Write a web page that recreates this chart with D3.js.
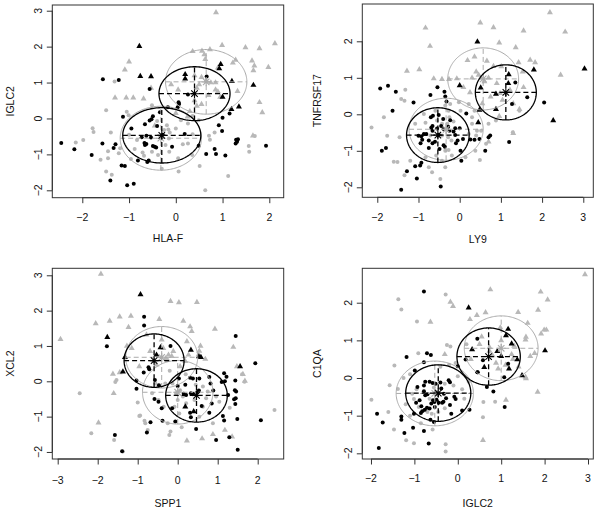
<!DOCTYPE html>
<html><head><meta charset="utf-8">
<script src="https://cdn.jsdelivr.net/npm/d3@7"></script>
<style>body{margin:0;background:#fff} svg{display:block} text{font-family:"Liberation Sans",Arial,Helvetica,sans-serif;fill:#111}</style>
</head><body><svg id="c" width="600" height="515"></svg>
<script>
// ---------- DATA ----------
const xLabels = ["HLA-F","LY9","SPP1","IGLC2"];
const yLabels = ["IGLC2","TNFRSF17","XCL2","C1QA"];
const xTicks = [[-2,-1,0,1,2],[-2,-1,0,1,2,3],[-3,-2,-1,0,1,2],[-2,-1,0,1,2,3]];
const yTicks = [[-2,-1,0,1,2,3],[-2,-1,0,1,2],[-2,-1,0,1,2,3],[-2,-1,0,1,2]];

const p1BlackDots = [[-2.45,-0.68],[-2.17,-0.86],[-1.8,-1.02],[-1.56,1.09],[-1.57,-0.7],[-1.4,-1.73],[-1.33,-0.82],[-1.29,-0.72],[-1.22,1.07],[-1.13,0.05],[-1.16,-1.31],[-1.09,-1.32],[-1.04,-1.86],[-0.9,-1.82],[-0.95,-0.28],[-0.81,-1.17],[-0.73,-0.52],[-0.66,-0.16],[-0.63,-0.48],[-0.53,-0.53],[-0.67,-0.68],[-0.63,-0.71],[-0.66,-0.74],[-0.49,-0.77],[-0.45,-0.79],[-0.42,-0.81],[-0.61,-1.21],[-0.58,-1.17],[-0.56,0.82],[-0.49,0.06],[-0.34,0.17],[-0.56,-0.06],[-0.52,-0.02],[-0.4,-0.21],[-0.28,-0.45],[-0.08,-0.79],[-0.17,0.31],[0.06,0.45],[0.07,0.4],[0.04,0.31],[0.19,-0.43],[0.26,0.67],[0.66,1.17],[0.49,-0.76],[0.65,-0.99],[0.83,-0.85],[0.86,-0.99],[1.06,-1.03],[0.92,-0.19],[0.99,-0.35],[1.0,0.02],[1.15,0.14],[1.29,-0.59],[1.31,-0.65],[1.28,-0.7],[1.33,-0.58],[1.93,-0.76]];
const p1BlackTri = [[-0.78,2.01],[-0.76,1.18],[-0.53,1.17],[0.2,1.23],[0.2,1.11],[0.96,1.51],[0.93,1.39],[1.2,1.04],[1.66,0.93],[1.35,0.33],[1.19,0.26],[1.0,0.6]];
const p1GrayDots = [[-1.31,1.03],[-1.49,0.23],[-1.78,-0.27],[-1.76,-0.38],[-1.98,-0.6],[-2.14,-0.67],[-1.39,-0.39],[-1.61,-1.15],[-1.45,-1.11],[-1.45,-0.91],[-1.49,-1.48],[-1.37,-1.57],[-1.22,-0.97],[-1.19,-0.83],[-1.01,0.09],[-1.05,0.19],[-0.96,-1.13],[-0.88,-0.85],[-0.51,0.37],[-0.71,-0.95],[-0.68,-1.04],[-0.83,-0.6],[-0.51,-0.93],[-0.38,-1.02],[-0.22,-0.74],[-0.25,-0.32],[-0.19,-0.19],[-0.4,-0.07],[-0.16,-0.31],[-0.13,-0.39],[-0.15,-0.56],[0.0,-0.28],[0.11,-0.05],[0.26,-0.14],[0.36,0.07],[0.49,-0.05],[-0.14,-0.93],[0.05,-1.11],[0.35,-1.02],[0.06,-1.48],[0.15,-0.72],[0.26,-0.7],[0.36,-0.44],[0.51,-1.32],[0.71,-0.48],[0.73,-0.59],[0.83,-0.39],[0.63,-2.0],[1.12,-1.6],[1.56,-0.77],[1.57,-0.93],[1.69,-0.49],[-0.3,-1.4],[-1.0,-0.45]];
const p1GrayTri = [[-1.0,1.58],[-1.09,1.36],[-1.3,0.58],[-1.06,0.58],[-0.91,0.58],[-0.69,0.55],[-0.53,0.85],[0.86,2.95],[0.99,2.04],[0.36,1.87],[0.56,1.88],[0.73,1.92],[0.61,1.78],[0.63,1.65],[1.49,1.98],[1.79,1.95],[2.12,2.09],[1.63,1.61],[1.68,1.47],[1.66,1.34],[1.98,1.43],[1.28,1.63],[1.22,1.55],[0.9,1.41],[0.4,1.2],[0.55,1.15],[0.65,1.05],[0.75,1.0],[0.5,0.95],[0.45,0.85],[0.85,1.0],[0.85,0.8],[0.9,0.75],[0.95,0.6],[0.7,0.65],[0.4,0.5],[0.45,0.35],[0.55,0.4],[0.3,0.2],[0.25,0.05],[1.32,0.76],[1.79,0.45],[1.85,0.17],[0.05,0.8],[-0.1,0.95],[1.65,-0.48],[-0.45,-0.2],[0.0,0.15]];
const p1Ellipses = [[-0.3,-0.47,0.835,0.77,"b"],[0.4,0.69,0.76,0.75,"b"],[-0.32,-0.55,0.87,0.89,"g"],[0.65,1.02,0.87,0.9,"g"]];

const p2BlackDots = [[-1.93,0.71],[-1.74,0.78],[-1.55,0.62],[-1.63,0.1],[-1.89,-1.0],[-1.79,-0.92],[-1.42,-2.07],[-1.28,-1.56],[-1.08,-1.42],[-0.96,-1.4],[-0.93,-1.33],[-1.04,-1.76],[-1.12,0.32],[-0.71,0.53],[-0.54,0.74],[-0.37,0.62],[-0.35,0.49],[-0.32,0.35],[-0.46,-1.98],[-0.66,-0.32],[-0.69,-0.37],[-0.66,-0.45],[-0.55,-0.39],[-0.51,-0.56],[-0.6,-0.75],[-0.66,-0.79],[-0.75,-0.72],[-0.91,-0.7],[-0.93,-0.6],[-1.0,-0.59],[-0.87,-0.54],[-0.81,-0.54],[-0.7,-0.08],[-0.65,-0.04],[-0.51,-0.02],[-0.4,-0.13],[-0.45,-0.32],[-0.39,-0.4],[-0.28,-0.34],[-0.25,-0.45],[-0.15,-0.47],[-0.11,-0.38],[0.0,-0.38],[-0.11,-0.57],[-0.36,-0.89],[-0.39,-0.85],[-0.49,-0.95],[-0.75,-0.92],[-0.95,-0.79],[-0.09,-0.79],[-0.05,-0.72],[0.08,-0.68],[0.16,0.02],[0.02,-1.0],[0.04,-1.27],[0.26,-0.69],[0.36,-0.7],[-0.23,-0.16],[1.35,0.87],[1.27,0.28],[1.64,0.47],[2.05,0.32],[0.74,-0.58],[0.7,-0.63],[0.48,-0.68],[1.2,-0.76],[0.62,-1.0]];
const p2BlackTri = [[0.43,1.99],[1.19,1.09],[1.18,0.85],[1.8,1.22],[3.03,1.25],[0.51,0.73],[0.88,0.56],[2.27,-0.17],[0.88,0.14],[0.48,0.12],[0.45,-0.22],[0.0,0.79]];
const p2GrayDots = [[-2.14,-0.36],[-1.84,-0.08],[-1.76,-0.59],[-1.51,-1.31],[-1.34,-1.67],[-1.42,0.42],[-1.32,0.67],[-1.34,0.37],[-1.08,-0.26],[-0.83,-0.23],[-0.43,-0.26],[-0.3,-0.26],[-0.25,-0.08],[-0.15,-0.2],[-0.27,0.1],[-0.35,0.24],[-0.23,0.28],[0.02,0.1],[-0.02,0.33],[0.22,0.28],[0.3,-0.08],[0.3,-0.26],[0.22,-0.54],[-0.35,-1.0],[-0.27,-0.98],[-0.57,-1.13],[-0.75,-1.45],[-0.67,-1.59],[-0.83,-1.18],[-0.43,-1.27],[-0.19,-1.13],[0.14,-1.18],[0.38,-1.0],[0.42,-0.45],[0.36,0.1],[-0.87,0.01],[-0.59,0.1],[-0.2,-0.72],[-0.28,-0.63],[-0.43,-0.58],[-0.71,-0.58],[-0.55,-0.17],[-1.46,-0.63],[-1.2,-1.27],[-0.47,-1.77],[-0.35,-1.45],[0.4,-0.58],[0.52,-0.45],[0.7,-0.26],[0.88,-0.17],[1.29,-0.49],[0.49,-1.25],[0.64,-0.81],[1.45,0.1],[-1.6,-1.3]];
const p2GrayTri = [[-0.83,2.37],[-0.72,1.87],[-1.28,1.19],[-0.98,1.23],[-0.63,0.98],[0.5,2.51],[0.82,2.38],[1.55,2.29],[2.19,2.79],[2.56,2.26],[0.96,1.96],[1.36,1.83],[0.19,1.48],[0.36,1.58],[1.71,1.49],[1.83,1.42],[1.43,1.42],[2.45,1.08],[1.53,1.17],[1.55,0.74],[0.66,1.46],[0.82,1.32],[1.01,1.31],[0.4,1.17],[0.46,1.08],[0.3,1.0],[-0.07,0.98],[-0.26,0.96],[-0.43,0.96],[1.22,0.67],[0.98,0.58],[0.75,0.48],[1.04,0.39],[1.3,0.3],[1.45,0.14],[0.96,-0.05],[1.3,-0.52],[0.7,-0.75],[0.09,0.74],[0.6,0.9],[0.7,1.0],[0.25,0.6],[0.9,0.85],[0.55,0.3]];
const p2Ellipses = [[-0.53,-0.57,0.76,0.75,"b"],[1.12,0.6,0.74,0.755,"b"],[-0.33,-0.41,0.9,0.85,"g"],[0.57,0.97,0.86,0.85,"g"]];

const p3BlackDots = [[-0.84,1.83],[-0.84,1.58],[-1.77,0.99],[-0.73,0.4],[-0.71,0.34],[-0.85,0.25],[-0.57,0.04],[-0.47,-0.11],[-1.03,0.02],[-1.03,-0.21],[-0.58,-0.5],[-0.48,-0.58],[-0.4,-0.76],[-0.38,-1.12],[-0.68,-1.16],[-0.77,-1.45],[-1.57,-1.52],[-1.39,-1.98],[-0.18,1.0],[1.45,1.28],[1.94,0.51],[0.03,0.08],[0.31,0.1],[0.38,0.08],[0.54,0.08],[0.79,0.12],[1.16,0.23],[1.22,0.13],[1.18,0.0],[1.44,0.02],[1.43,-0.25],[1.46,-0.29],[1.41,-0.51],[1.45,-0.48],[1.1,-0.02],[0.82,-0.06],[0.89,-0.26],[1.26,-0.39],[0.85,-0.63],[0.79,-0.89],[1.13,-0.98],[1.16,-1.11],[1.49,-1.07],[2.08,-1.1],[0.49,-0.3],[0.53,-0.26],[0.33,-0.34],[0.38,-0.37],[0.19,-0.1],[0.0,-0.13],[0.21,-0.39],[0.31,-0.89],[0.33,-1.02],[0.46,-1.35],[0.96,-1.66],[1.29,-1.58],[1.5,-1.94],[-0.14,-0.76],[-0.06,-1.14],[1.44,-0.64],[0.15,-0.35],[0.6,-0.7]];
const p3BlackTri = [[-0.93,2.46],[-1.76,1.25],[-0.43,0.96],[-1.32,0.68],[-0.53,0.75],[-1.37,0.27],[0.33,0.89],[0.53,0.7],[0.58,0.68],[1.56,0.42],[0.19,-0.72],[0.4,-0.85]];
const p3GrayDots = [[-2.45,-0.34],[-2.16,-1.47],[-1.59,-1.66],[-1.37,-1.99],[-0.94,-0.97],[-0.83,-1.12],[-0.75,-1.38],[-0.18,-1.42],[-0.21,-1.52],[2.42,-0.81],[-0.04,-0.34],[0.06,-0.25],[-0.13,-0.06],[0.13,-0.43],[0.0,-0.53],[0.21,-0.62],[0.42,-0.53],[0.63,-0.72],[0.71,-0.48],[0.96,-0.43],[1.04,-0.58],[0.63,-0.15],[0.75,-0.29],[-0.08,-0.72],[0.04,-0.91],[0.54,-1.0],[0.88,-1.19],[-0.25,-1.19],[1.67,-0.01],[1.61,0.2],[-0.64,-0.34],[-0.48,-0.53],[-0.35,-0.72],[-0.56,-0.06],[-0.31,-0.06],[-0.96,-0.98],[-0.81,-1.19],[-1.53,0.04],[-1.56,-0.02],[0.2,0.2],[-0.2,0.3],[0.45,-0.1],[1.3,-0.75],[-1.0,-0.6],[0.1,-1.3]];
const p3GrayTri = [[-1.92,3.04],[-2.93,1.19],[-2.05,1.64],[-1.7,1.71],[-1.45,1.83],[-1.17,1.85],[-1.23,1.53],[-0.46,1.76],[-1.27,1.0],[-1.6,-0.34],[-1.62,0.21],[-1.45,0.25],[-1.98,-1.17],[-0.18,2.27],[0.03,2.23],[0.48,2.24],[0.14,1.71],[0.31,1.55],[0.35,1.42],[0.93,1.48],[0.57,1.0],[0.54,0.86],[0.69,0.63],[1.39,0.97],[1.63,0.2],[1.68,0.01],[1.48,0.42],[0.23,-1.68],[0.61,-1.62],[0.88,-1.5],[1.18,-1.38],[1.36,-1.57],[-0.36,0.94],[-0.23,0.75],[-0.15,0.71],[-0.11,0.85],[-0.4,1.18],[-0.78,1.32],[-0.69,0.85],[0.23,1.13],[0.27,0.75],[0.52,0.75],[-0.53,0.47],[-1.15,0.94],[-0.96,0.42],[0.06,0.42],[0.19,0.57],[-0.3,0.65],[-0.25,0.6]];
const p3Ellipses = [[-0.59,0.585,0.75,0.755,"b"],[0.47,-0.4,0.77,0.755,"b"],[-0.4,0.68,0.9,0.87,"g"],[0.0,-0.31,0.88,0.9,"g"]];

const p4BlackDots = [[-0.78,2.3],[-1.18,0.56],[-0.71,0.66],[-0.62,0.61],[-0.99,0.2],[-0.78,0.42],[0.45,1.04],[0.0,0.31],[0.18,0.49],[0.45,0.15],[-1.86,-0.95],[-1.73,-1.18],[-1.3,-1.02],[-1.3,-1.11],[-1.23,-1.46],[-1.03,-1.32],[-0.78,-1.41],[-1.82,-1.86],[-0.67,-1.74],[-0.85,-0.93],[-0.82,-0.88],[-0.76,-0.84],[-0.71,-0.79],[-0.65,-0.81],[-0.61,-0.68],[-0.57,-0.59],[-0.54,-0.64],[-0.49,-0.58],[-0.44,-0.66],[-0.36,-0.66],[-0.33,-0.63],[-0.75,-0.46],[-0.7,-0.43],[-0.78,-0.35],[-0.88,-0.59],[-0.96,-0.66],[-0.84,-0.75],[-0.93,-0.24],[-0.78,-0.2],[-0.75,-0.1],[-0.65,-0.1],[-0.58,-0.13],[-0.51,-0.15],[-0.4,-0.12],[-0.38,-0.28],[-0.32,-0.42],[-0.5,-0.4],[-0.21,-0.06],[-0.18,-0.11],[-0.08,-0.5],[-0.05,-0.56],[0.1,-0.86],[-0.15,-0.95],[-0.18,-0.72],[-0.27,-0.54],[0.27,-0.84],[-0.63,-1.11],[-1.01,-0.95],[-0.55,-1.17],[-0.53,-0.77],[0.58,0.47],[1.16,0.38],[0.46,0.15],[1.07,0.02],[0.67,-0.24],[0.82,-0.36],[1.08,-0.77]];
const p4BlackTri = [[0.25,1.87],[0.33,0.76],[1.16,1.3],[1.11,1.13],[1.24,0.91],[0.91,0.71],[1.0,0.58],[1.37,0.49],[0.61,0.29],[1.18,0.25],[1.48,0.07],[2.01,0.73]];
const p4GrayDots = [[-1.37,2.09],[-1.3,1.82],[-0.94,1.5],[-0.28,2.22],[-0.25,0.88],[-0.17,0.84],[-0.91,0.66],[-1.46,0.33],[-1.57,-0.19],[-1.99,-0.58],[-1.38,-0.29],[-1.47,-1.37],[-1.19,-1.65],[-1.01,-1.73],[-0.58,-1.37],[-0.28,-1.76],[-0.28,-1.95],[-1.05,-0.42],[-1.01,-0.56],[-0.9,-0.77],[-0.78,-0.86],[-0.7,-0.9],[-0.6,-0.95],[-0.45,-0.9],[-0.3,-0.8],[-0.85,-1.2],[-1.1,-1.0],[-1.2,-0.7],[-0.95,-0.3],[-0.55,-0.25],[-0.3,-0.15],[-0.1,-0.2],[0.0,0.05],[0.1,-0.3],[-0.2,0.35],[-0.05,0.4],[-1.1,0.1],[-1.25,0.0],[0.59,-0.64],[0.86,-0.63],[0.58,-1.04],[-1.6,-0.9],[-0.4,0.3],[0.15,-0.55],[0.2,0.9],[0.25,-0.1],[-0.65,-0.55]];
const p4GrayTri = [[2.93,2.75],[0.75,2.35],[1.91,2.29],[2.07,2.08],[1.85,1.81],[1.39,1.75],[1.61,1.46],[1.57,1.09],[1.56,1.02],[1.92,1.18],[1.99,1.28],[2.04,1.28],[1.77,0.66],[1.67,0.58],[1.84,-0.37],[1.56,0.03],[1.57,-0.01],[0.98,1.34],[0.73,0.82],[0.73,0.72],[0.88,0.4],[0.93,0.25],[1.24,0.63],[1.27,0.5],[-0.63,1.49],[-0.17,2.02],[-0.11,1.91],[-0.3,0.63],[0.28,1.56],[0.44,1.67],[0.64,1.74],[1.11,-0.58],[0.58,-1.65],[0.5,0.9],[1.0,1.0],[1.3,0.85],[0.8,0.6],[1.4,0.3],[0.3,0.5],[1.1,0.35],[0.55,1.1]];
const p4Ellipses = [[-0.45,-0.4,0.75,0.75,"b"],[0.71,0.57,0.73,0.76,"b"],[-0.53,-0.41,0.89,0.86,"g"],[1.0,0.79,0.85,0.86,"g"]];

// ---------- LAYOUT ----------
const layout = [
  {box:[52.3,5,283.7,197.7], xdom:[-2.642,2.308], ydom:[-2.206,3.159], tOff:19, xtOff:40.6, ytOff:42.3},
  {box:[362.3,4,593.3,197.3], xdom:[-2.364,3.243], ydom:[-2.274,3.022], tOff:20, xtOff:41.7, ytOff:45.6},
  {box:[52.3,268.3,283.7,459], xdom:[-3.135,2.65], ydom:[-2.199,3.198], tOff:21, xtOff:44, ytOff:42.3},
  {box:[362.3,268.3,593.3,459], xdom:[-2.2,3.122], ydom:[-2.151,2.914], tOff:19, xtOff:43.7, ytOff:45.6}
];
const panels = [
  {bd:p1BlackDots, bt:p1BlackTri, gd:p1GrayDots, gt:p1GrayTri, el:p1Ellipses},
  {bd:p2BlackDots, bt:p2BlackTri, gd:p2GrayDots, gt:p2GrayTri, el:p2Ellipses},
  {bd:p3BlackDots, bt:p3BlackTri, gd:p3GrayDots, gt:p3GrayTri, el:p3Ellipses},
  {bd:p4BlackDots, bt:p4BlackTri, gd:p4GrayDots, gt:p4GrayTri, el:p4Ellipses}
];
const GRAY_PT = "#b8b8b8", GRAY_LN = "#ababab", BLACK = "#000";
const FS = 10.5;
const fmt = v => (v < 0 ? "\u2212" + Math.abs(v) : String(v));

const svg = d3.select("#c");
const tri = "M0,-3.4L3,1.8L-3,1.8Z";

panels.forEach((p, i) => {
  const L = layout[i];
  const [x0, y0, x1, y1] = L.box;
  const x = d3.scaleLinear().domain(L.xdom).range([x0, x1]);
  const y = d3.scaleLinear().domain(L.ydom).range([y1, y0]);
  const g = svg.append("g");

  // axes (R style: line from first to last tick, outward ticks)
  const xa = g.append("g").attr("transform", `translate(0,${y1})`)
    .call(d3.axisBottom(x).tickValues(xTicks[i]).tickSize(5.5).tickFormat(""));
  xa.select(".domain").remove();
  xa.append("line").attr("x1", x(xTicks[i][0])).attr("x2", x(xTicks[i][xTicks[i].length-1]))
    .attr("stroke", "#333");
  xa.selectAll("line").attr("stroke", "#333");
  const ya = g.append("g").attr("transform", `translate(${x0},0)`)
    .call(d3.axisLeft(y).tickValues(yTicks[i]).tickSize(5.5).tickFormat(""));
  ya.select(".domain").remove();
  ya.append("line").attr("y1", y(yTicks[i][0])).attr("y2", y(yTicks[i][yTicks[i].length-1]))
    .attr("stroke", "#333");
  ya.selectAll("line").attr("stroke", "#333");

  xTicks[i].forEach(v => g.append("text").attr("x", x(v)).attr("y", y1 + L.tOff + 3.8)
    .attr("text-anchor", "middle").attr("font-size", FS).text(fmt(v)));
  yTicks[i].forEach(v => g.append("text")
    .attr("transform", `translate(${x0 - 14.3 + 3.8},${y(v)}) rotate(-90)`)
    .attr("text-anchor", "middle").attr("font-size", FS).text(fmt(v)));
  g.append("text").attr("x", (x0 + x1) / 2).attr("y", y1 + L.xtOff + 3.8)
    .attr("text-anchor", "middle").attr("font-size", FS).text(xLabels[i]);
  g.append("text").attr("transform", `translate(${x0 - L.ytOff + 3.8},${(y0 + y1) / 2}) rotate(-90)`)
    .attr("text-anchor", "middle").attr("font-size", FS).text(yLabels[i]);

  // points
  const pts = g.append("g");
  pts.selectAll(".gd").data(p.gd).join("circle").attr("cx", d => x(d[0])).attr("cy", d => y(d[1]))
    .attr("r", 2).attr("fill", GRAY_PT);
  pts.selectAll(".gt").data(p.gt).join("path").attr("d", tri)
    .attr("transform", d => `translate(${x(d[0])},${y(d[1])})`).attr("fill", GRAY_PT);
  pts.selectAll(".bd").data(p.bd).join("circle").attr("cx", d => x(d[0])).attr("cy", d => y(d[1]))
    .attr("r", 2).attr("fill", BLACK);
  pts.selectAll(".bt").data(p.bt).join("path").attr("d", tri)
    .attr("transform", d => `translate(${x(d[0])},${y(d[1])})`).attr("fill", BLACK);

  // ellipses, crosshairs, centre stars (gray first, then black)
  const order = p.el.filter(e => e[4] === "g").concat(p.el.filter(e => e[4] === "b"));
  const line = d3.line().x(d => x(d[0])).y(d => y(d[1]));
  order.forEach(e => {
    const [cx, cy, rx, ry, c] = e;
    const col = c === "b" ? BLACK : GRAY_LN;
    const sw = c === "b" ? 1.3 : 1;
    const ang = d3.range(0, 2 * Math.PI + 0.01, Math.PI / 90);
    g.append("path").attr("d", line(ang.map(a => [cx + rx * Math.cos(a), cy + ry * Math.sin(a)])))
      .attr("fill", "none").attr("stroke", col).attr("stroke-width", sw);
    g.append("line").attr("x1", x(cx - rx)).attr("x2", x(cx + rx)).attr("y1", y(cy)).attr("y2", y(cy))
      .attr("stroke", col).attr("stroke-width", sw).attr("stroke-dasharray", "5,3");
    g.append("line").attr("x1", x(cx)).attr("x2", x(cx)).attr("y1", y(cy - ry)).attr("y2", y(cy + ry))
      .attr("stroke", col).attr("stroke-width", sw).attr("stroke-dasharray", "5,3");
    const sx = x(cx), sy = y(cy), r = 4.5, d = r * 0.72;
    const star = `M${sx - r},${sy}L${sx + r},${sy}M${sx},${sy - r}L${sx},${sy + r}M${sx - d},${sy - d}L${sx + d},${sy + d}M${sx - d},${sy + d}L${sx + d},${sy - d}`;
    g.append("path").attr("d", star).attr("stroke", col).attr("stroke-width", 1.1).attr("fill", "none");
  });

  // box
  g.append("rect").attr("x", x0).attr("y", y0).attr("width", x1 - x0).attr("height", y1 - y0)
    .attr("fill", "none").attr("stroke", "#333").attr("stroke-width", 1);
});
</script></body></html>
